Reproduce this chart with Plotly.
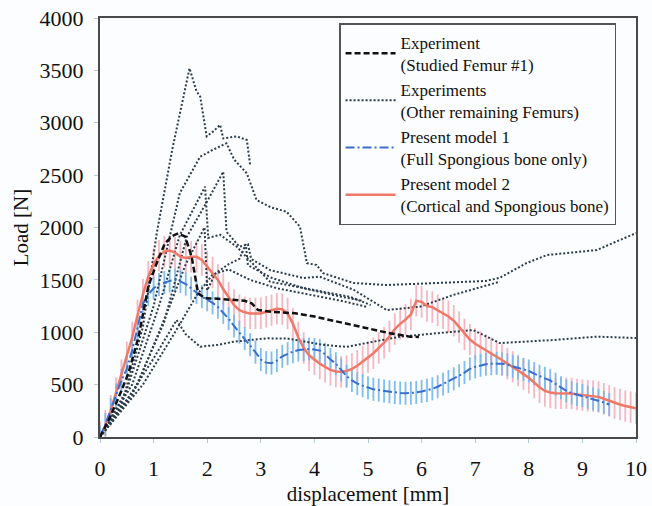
import plotly.graph_objects as go

# ---------------- data ----------------
STEP_X = [round(i * 0.1, 1) for i in range(101)]

MODEL2_Y = [0, 110, 250, 420, 590, 760, 950, 1160, 1360, 1530,
            1650, 1730, 1770, 1780, 1760, 1720, 1710, 1720, 1720, 1690,
            1630, 1570, 1500, 1410, 1330, 1260, 1210, 1190, 1180, 1180,
            1180, 1195, 1210, 1225, 1220, 1180, 1080, 950, 850, 780,
            740, 700, 670, 640, 625, 622, 630, 650, 680, 720,
            760, 800, 850, 900, 960, 1030, 1080, 1120, 1170, 1300,
            1290, 1250, 1240, 1210, 1180, 1150, 1110, 1050, 980, 930,
            890, 860, 830, 800, 765, 735, 700, 670, 635, 600,
            565, 520, 475, 440, 425, 418, 417, 418, 415, 405,
            400, 395, 390, 383, 365, 345, 325, 310, 295, 285,
            275]

MODEL1_Y = [0, 120, 260, 400, 540, 650, 830, 1040, 1270, 1360,
            1420, 1455, 1475, 1490, 1500, 1485, 1460, 1420, 1380, 1340,
            1310, 1280, 1240, 1190, 1130, 1060, 1000, 940, 880, 810,
            740, 710, 705, 730, 770, 795, 815, 830, 835, 840,
            835, 825, 790, 740, 700, 640, 580, 540, 510, 490,
            470, 455, 448, 440, 432, 425, 420, 417, 418, 425,
            435, 445, 460, 480, 505, 530, 555, 585, 615, 650,
            670, 685, 695, 700, 703, 700, 690, 675, 660, 645,
            630, 605, 580, 560, 540, 505, 470, 440, 420, 405,
            395, 380, 365, 350, 330, 310]

MODEL2_ERR = 150
MODEL1_ERR = 110

EXP1_X = [0, 0.16, 0.35, 0.53, 0.72, 0.9, 1.05, 1.21, 1.35, 1.46, 1.59, 1.71,
          1.83, 1.96, 2.2, 2.52, 2.7, 2.83, 2.95, 3.2, 3.64, 4.0, 4.29, 4.91,
          5.41, 5.78, 5.95]
EXP1_Y = [0, 160, 380, 608, 958, 1435, 1650, 1849, 1920, 1944, 1912, 1721,
          1372, 1324, 1320, 1308, 1300, 1276, 1212, 1195, 1181, 1150, 1117, 1053,
          990, 958, 955]

OTHER_X = [
    [0, 0.4, 0.8, 1.06, 1.35, 1.67, 1.8, 1.87, 1.99, 2.12, 2.24, 2.3, 2.55, 2.74, 2.8],
    [0, 0.5, 1.0, 1.49, 1.87, 2.1, 2.36, 2.5, 2.74, 2.92, 3.2, 3.48, 3.73, 3.86,
     4.04, 4.16, 4.73, 5.35, 6.28, 7.2, 7.46, 7.96, 8.34, 9.27, 10],
    [0, 0.6, 1.2, 1.62, 2.0, 2.3, 2.36, 2.6, 2.76, 2.82, 3.17, 3.79, 4.1, 4.73,
     5.35, 5.97, 6.59, 7.46],
    [0, 0.6, 1.1, 1.49, 1.96, 2.02, 2.24, 2.55, 3.17, 3.8, 4.66, 5.05],
    [0, 0.7, 1.3, 1.6, 1.95, 2.0, 2.15, 2.4, 2.6, 2.72, 2.76, 3.2, 3.8, 4.4, 4.9],
    [0, 0.5, 1.0, 1.43, 1.6, 1.87, 2.2, 2.5, 3.11, 3.5, 4.16, 4.6, 5.0, 5.6,
     6.34, 6.96, 7.46, 8.46, 9.27, 10],
    [0, 0.8, 1.4, 1.8, 2.1, 2.4, 2.8, 3.3, 3.9, 4.5, 5.0],
]
OTHER_Y = [
    [0, 300, 1050, 1950, 2750, 3520, 3300, 3250, 2870, 2920, 2980, 2850, 2870, 2835, 2600],
    [0, 450, 1250, 2330, 2676, 2740, 2804, 2650, 2517, 2262, 2190, 2151, 2008, 1660,
     1642, 1565, 1470, 1451, 1470, 1490, 1520, 1661, 1737, 1785, 1947],
    [0, 400, 1100, 1912, 2250, 2533, 1960, 1817, 1840, 1700, 1594, 1518, 1530, 1406,
     1212, 1244, 1356, 1483],
    [0, 500, 1250, 1928, 2390, 1900, 1930, 1817, 1483, 1420, 1339, 1260],
    [0, 500, 1250, 1650, 2000, 1400, 1560, 1650, 1700, 1840, 1640, 1520, 1420, 1350, 1300],
    [0, 350, 750, 1117, 980, 862, 880, 910, 942, 940, 880, 860, 900, 958,
     993, 1021, 897, 926, 958, 945],
    [0, 500, 1000, 1350, 1550, 1600, 1500, 1420, 1360, 1300, 1240],
]

X_TICKS = list(range(0, 11))
Y_TICKS = list(range(0, 4001, 500))

LABEL_EXP1 = "Experiment<br>(Studied Femur #1)"
LABEL_OTHER = "Experiments<br>(Other remaining Femurs)"
LABEL_M1 = "Present model 1<br>(Full Spongious bone only)"
LABEL_M2 = "Present model 2<br>(Cortical and Spongious bone)"

# ---------------- figure ----------------
FONT = "Liberation Serif"
DOT_COLOR = "#2c3d4c"
RED = "#f07868"
RED_ERR = "rgba(245,165,178,0.8)"
BLUE = "#3a6fd0"
BLUE_ERR = "rgba(115,182,240,0.9)"

fig = go.Figure()

# error bands (drawn first)
fig.add_trace(go.Scatter(
    x=STEP_X[:len(MODEL2_Y)], y=MODEL2_Y, mode="markers",
    marker=dict(size=0.1, color="rgba(0,0,0,0)"),
    error_y=dict(type="constant", value=MODEL2_ERR, width=0, thickness=1.8, color=RED_ERR),
    showlegend=False, hoverinfo="skip"))
fig.add_trace(go.Scatter(
    x=STEP_X[:len(MODEL1_Y)], y=MODEL1_Y, mode="markers",
    marker=dict(size=0.1, color="rgba(0,0,0,0)"),
    error_y=dict(type="constant", value=MODEL1_ERR, width=0, thickness=1.8, color=BLUE_ERR),
    showlegend=False, hoverinfo="skip"))

# experiment curves (dotted)
for xs, ys in zip(OTHER_X, OTHER_Y):
    fig.add_trace(go.Scatter(
        x=xs, y=ys, mode="lines",
        line=dict(color=DOT_COLOR, width=2, dash="2px,2px"),
        name=LABEL_OTHER, legendgroup="other", showlegend=False, legendrank=2))

# model lines
fig.add_trace(go.Scatter(
    x=STEP_X[:len(MODEL2_Y)], y=MODEL2_Y, mode="lines",
    line=dict(color=RED, width=2.5),
    name=LABEL_M2, legendrank=4))
fig.add_trace(go.Scatter(
    x=STEP_X[:len(MODEL1_Y)], y=MODEL1_Y, mode="lines",
    line=dict(color=BLUE, width=2, dash="9px,3px,2px,3px"),
    name=LABEL_M1, legendrank=3))

# studied femur
fig.add_trace(go.Scatter(
    x=EXP1_X, y=EXP1_Y, mode="lines",
    line=dict(color="#111111", width=2.5, dash="6px,3px"),
    name=LABEL_EXP1, legendrank=1))

# legend entry for dotted experiments
fig.add_trace(go.Scatter(
    x=[None], y=[None], mode="lines",
    line=dict(color=DOT_COLOR, width=2, dash="2px,2px"),
    name=LABEL_OTHER, legendgroup="other", legendrank=2))

axis_common = dict(
    showline=True, mirror=True, linecolor="#4a4a4a", linewidth=2,
    ticks="outside", ticklen=4, tickcolor="#b0cce8", tickwidth=1,
    showgrid=False, zeroline=False, automargin=False,
    tickfont=dict(family=FONT, size=22, color="#111"),
    title_font=dict(family=FONT, size=21, color="#111"),
)

fig.update_xaxes(range=[0, 10], tickvals=X_TICKS, title_text="displacement [mm]",
                 ticklabelstandoff=7, title_standoff=6, **axis_common)
fig.update_yaxes(range=[0, 4000], tickvals=Y_TICKS, title_text="Load [N]",
                 ticklabelstandoff=6, title_standoff=5, **axis_common)

fig.update_layout(
    width=652, height=506,
    margin=dict(l=100, r=16, t=18, b=69),
    paper_bgcolor="#fcfdfe", plot_bgcolor="#fcfdfe",
    font=dict(family=FONT, color="#111"),
    legend=dict(
        x=0.446, y=0.988, xanchor="left", yanchor="top",
        bgcolor="#fcfdfe", bordercolor="#555", borderwidth=1.5,
        font=dict(family=FONT, size=17, color="#111"),
        itemwidth=50, tracegroupgap=0, traceorder="normal",
    ),
)

fig.write_html("out.html")
